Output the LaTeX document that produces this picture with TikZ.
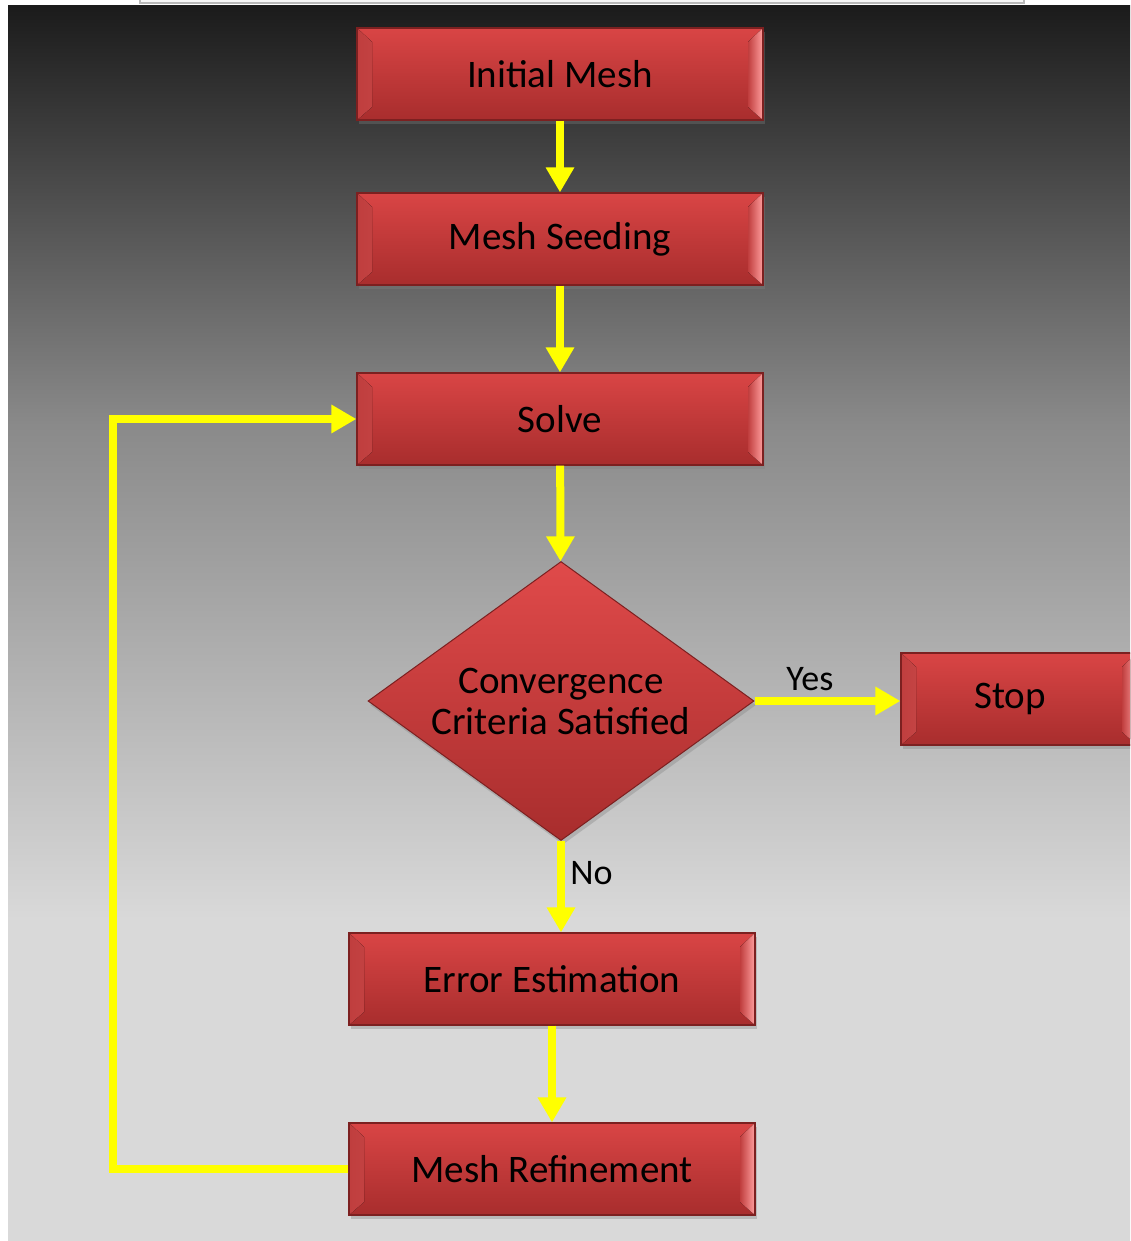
\documentclass[tikz,border=0pt]{standalone}
\usepackage{fontspec}
\setmainfont{Carlito}
\usepackage{xcolor}
\usepackage{tikz}
\usetikzlibrary{arrows.meta,shapes.geometric,shadows,calc}

\definecolor{boxtop}{HTML}{D94545}
\definecolor{boxbot}{HTML}{A82D2D}
\definecolor{boxedge}{HTML}{7C2020}
\definecolor{bevred}{HTML}{C03E3E}
\definecolor{bevpink}{HTML}{FF9E9E}
\definecolor{diatop}{HTML}{E04A4A}
\definecolor{flowyellow}{HTML}{FFFF00}
\definecolor{bgtop}{HTML}{1B1B1B}
\definecolor{bgdark}{HTML}{3C3C3C}
\definecolor{bgmid}{HTML}{8A8A8A}
\definecolor{bgbot}{HTML}{D9D9D9}

\pgfdeclareverticalshading{bgfade}{100bp}{color(0bp)=(bgbot); color(38bp)=(bgbot);
  color(58bp)=(bgmid); color(70bp)=(bgdark); color(75bp)=(bgtop); color(100bp)=(bgtop)}

\begin{document}
\begin{tikzpicture}[x=1pt,y=-1pt,
  procbox/.style={rectangle,draw=boxedge,line width=1.2pt,minimum width=406pt,minimum height=92pt,
    inner sep=0pt,top color=boxtop,bottom color=boxbot,
    drop shadow={shadow xshift=2pt,shadow yshift=-4pt,opacity=0.35},
    font=\fontsize{39}{44}\selectfont,
    path picture={
      \fill[left color=bevred,right color=bevpink] (path picture bounding box.north west)
        -- ([xshift=15pt,yshift=-14pt]path picture bounding box.north west)
        -- ([xshift=15pt,yshift=13pt]path picture bounding box.south west)
        -- (path picture bounding box.south west) -- cycle;
      \fill[left color=bevred,right color=bevpink] (path picture bounding box.north east)
        -- ([xshift=-15pt,yshift=-14pt]path picture bounding box.north east)
        -- ([xshift=-15pt,yshift=13pt]path picture bounding box.south east)
        -- (path picture bounding box.south east) -- cycle;
    }},
  decision/.style={diamond,draw=boxedge,line width=1pt,minimum width=386pt,minimum height=279pt,
    inner sep=0pt,aspect=1.38,top color=diatop,bottom color=boxbot,align=center,
    drop shadow={shadow xshift=2pt,shadow yshift=-4pt,opacity=0.35},
    font=\fontsize{39}{41}\selectfont},
  flow/.style={draw=flowyellow,line width=8pt,-{Triangle[length=25pt,width=27pt]}},
  lbl/.style={font=\fontsize{36}{40}\selectfont,text=black}]
  \useasboundingbox (0,0) rectangle (1130,1241);
  \clip (0,0) rectangle (1130,1241); %只显示截图区域
  \fill[white] (0,0) rectangle (1130,1241);
  \shade[shading=bgfade] (8,6) rectangle (1130,1241);
  \draw[gray!55,line width=1.5pt,fill=gray!6] (140,-4) rectangle (1024,3);

  \node[procbox] (init) at (560,74) {Initial Mesh};
  \node[procbox] (seed) at (560,239) {Mesh Seeding};
  \node[procbox] (solve) at (560,419) {Solve};
  \node[decision] (conv) at (561,701) {Convergence\\Criteria Satisfied};
  \node[procbox,minimum width=236pt] (stop) at (1019,699) {\hspace*{-18pt}Stop};
  \node[procbox] (err) at (552,979) {Error Estimation};
  \node[procbox] (refine) at (552,1169) {Mesh Refinement};
  \coordinate (loopx) at (113,0);

  \draw[flow] (init) -- (seed);
  \draw[flow] (seed) -- (solve);
  \draw[flow] (solve) -- (conv);
  \draw[flow] (conv.east) -- node[lbl,above=3pt,pos=0.38] {Yes} (stop.west |- conv.east);
  \draw[flow] (conv.south) -- node[lbl,right=2pt,pos=0.35] {No} (conv.south |- err.north);
  \draw[flow] (err) -- (refine);
  \draw[flow] (refine.west) -- (refine.west -| loopx) -- (solve.west -| loopx) -- (solve.west); %回到求解
\end{tikzpicture}
\end{document}
